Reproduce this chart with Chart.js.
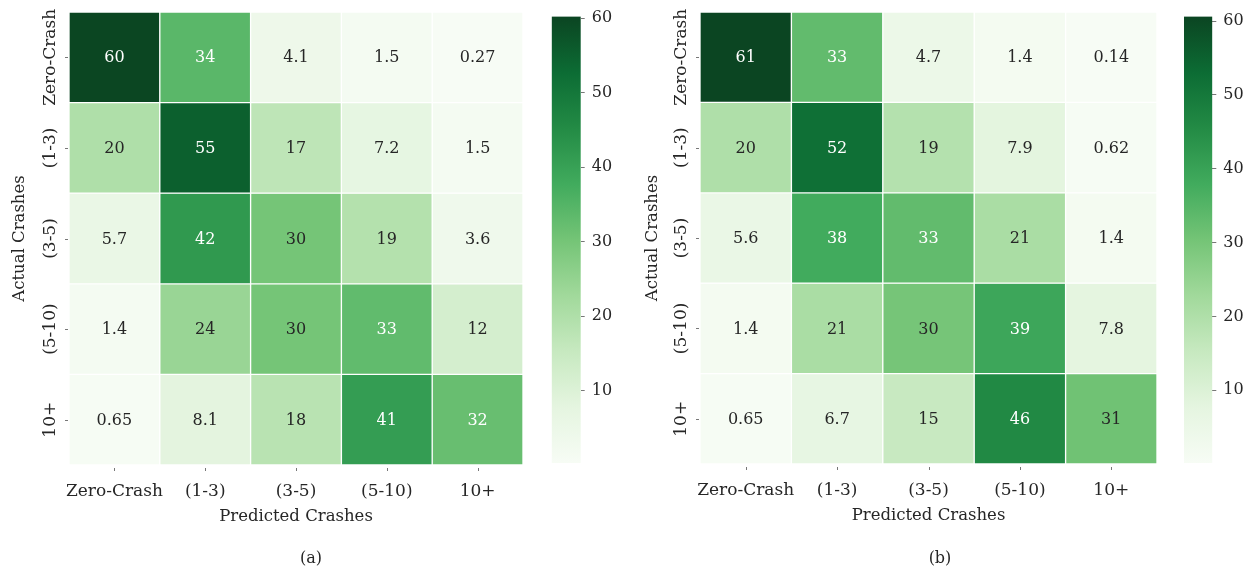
<!DOCTYPE html>
<html>
<head>
<meta charset="utf-8">
<script src="https://cdn.jsdelivr.net/npm/chart.js@4.4.1/dist/chart.umd.min.js"></script>
<style>
  html, body { margin: 0; padding: 0; background: #ffffff; }
  body { width: 1255px; height: 571px; position: relative; overflow: hidden; }
  .box { position: absolute; top: 0; height: 571px; }
  .cap { position: absolute; top: 548px; font-family: 'DejaVu Serif', serif; font-size: 16px; color: #262626; width: 60px; text-align: center; }
</style>
</head>
<body>
<div class="box" style="left:0px;width:540px"><canvas id="heatA"></canvas></div>
<div class="box" style="left:545px;width:90px"><canvas id="barA"></canvas></div>
<div class="box" style="left:630px;width:540px"><canvas id="heatB"></canvas></div>
<div class="box" style="left:1178px;width:77px"><canvas id="barB"></canvas></div>
<div class="cap" style="left:281px">(a)</div>
<div class="cap" style="left:910px">(b)</div>
<script>
// ---------------- data ----------------
const predictedLabels = ['Zero-Crash', '(1-3)', '(3-5)', '(5-10)', '10+'];
const actualLabels = ['Zero-Crash', '(1-3)', '(3-5)', '(5-10)', '10+'];
const valuesA = [
  [60, 34, 4.1, 1.5, 0.27],
  [20, 55, 17, 7.2, 1.5],
  [5.7, 42, 30, 19, 3.6],
  [1.4, 24, 30, 33, 12],
  [0.65, 8.1, 18, 41, 32]
];
const valuesB = [
  [61, 33, 4.7, 1.4, 0.14],
  [20, 52, 19, 7.9, 0.62],
  [5.6, 38, 33, 21, 1.4],
  [1.4, 21, 30, 39, 7.8],
  [0.65, 6.7, 15, 46, 31]
];
const colorRangeA = [0.27, 60.2];
const colorRangeB = [0.14, 60.6];
const colorbarTicks = [10, 20, 30, 40, 50, 60];
const xTitle = 'Predicted Crashes';
const yTitle = 'Actual Crashes';

// ---------------- styling helpers ----------------
const FONT = "'DejaVu Serif', serif";
const TEXT = '#262626';
const GREENS = ['#f7fcf5', '#e5f5e0', '#c7e9c0', '#a1d99b', '#74c476', '#41ab5d', '#238b45', '#0c6c34', '#0b4522'];
function hexRgb(h) { return [parseInt(h.slice(1, 3), 16), parseInt(h.slice(3, 5), 16), parseInt(h.slice(5, 7), 16)]; }
const GREENS_RGB = GREENS.map(hexRgb);
function cmapRgb(v, range) {
  let t = (v - range[0]) / (range[1] - range[0]);
  t = Math.max(0, Math.min(1, t));
  const p = t * (GREENS_RGB.length - 1);
  const i = Math.min(Math.floor(p), GREENS_RGB.length - 2);
  const f = p - i;
  const a = GREENS_RGB[i], b = GREENS_RGB[i + 1];
  return [0, 1, 2].map(k => a[k] + (b[k] - a[k]) * f);
}
function rgbStr(c) { return 'rgb(' + c.map(x => Math.round(x)).join(',') + ')'; }
function luminance(c) {
  const l = c.map(x => { x /= 255; return x <= 0.03928 ? x / 12.92 : Math.pow((x + 0.055) / 1.055, 2.4); });
  return 0.2126 * l[0] + 0.7152 * l[1] + 0.0722 * l[2];
}
function fmt(v) { return String(Number(v.toPrecision(2))); }

const annotPlugin = {
  id: 'annot',
  afterDatasetsDraw(chart) {
    const ctx = chart.ctx;
    const range = chart.options.plugins.annot.range;
    const vals = chart.options.plugins.annot.values;
    ctx.save();
    ctx.font = '16px ' + FONT;
    ctx.textAlign = 'center';
    ctx.textBaseline = 'middle';
    chart.data.datasets.forEach((ds, r) => {
      const meta = chart.getDatasetMeta(r);
      meta.data.forEach((el, c) => {
        const v = vals[r][c];
        const col = cmapRgb(v, range);
        ctx.fillStyle = luminance(col) > 0.42 ? TEXT : '#ffffff';
        ctx.fillText(fmt(v), el.x, (el.y + el.base) / 2 + 1);
      });
    });
    // y tick labels (rotated) and tick marks
    const ys = chart.scales.y, xs = chart.scales.x, ca = chart.chartArea;
    ctx.strokeStyle = '#777';
    ctx.lineWidth = 1;
    actualLabels.forEach((lab, i) => {
      const y = ys.getPixelForValue(i + 0.5);
      ctx.beginPath(); ctx.moveTo(ca.left - 4, Math.round(y) + 0.5); ctx.lineTo(ca.left - 1, Math.round(y) + 0.5); ctx.stroke();
      ctx.save();
      ctx.translate(ca.left - 18, y);
      ctx.rotate(-Math.PI / 2);
      ctx.fillStyle = TEXT;
      ctx.font = '17px ' + FONT;
      ctx.textAlign = 'center';
      ctx.textBaseline = 'middle';
      ctx.fillText(lab, 0, 0);
      ctx.restore();
    });
    predictedLabels.forEach((lab, i) => {
      const x = xs.getPixelForValue(i);
      ctx.beginPath(); ctx.moveTo(Math.round(x) + 0.5, ca.bottom + 3); ctx.lineTo(Math.round(x) + 0.5, ca.bottom + 6); ctx.stroke();
    });
    ctx.restore();
  }
};

function makeHeatmap(id, values, range, pad, yWidth) {
  const datasets = values.map((row, r) => ({
    data: row.map(() => [r, r + 1]),
    backgroundColor: row.map(v => rgbStr(cmapRgb(v, range))),
    borderColor: '#ffffff',
    borderWidth: 1,
    borderSkipped: false,
    barPercentage: 1,
    categoryPercentage: 1,
    grouped: false
  }));
  return new Chart(document.getElementById(id), {
    type: 'bar',
    data: { labels: predictedLabels, datasets },
    plugins: [annotPlugin],
    options: {
      responsive: true,
      maintainAspectRatio: false,
      animation: false,
      layout: { padding: pad },
      plugins: {
        legend: { display: false },
        tooltip: { enabled: false },
        annot: { range, values }
      },
      scales: {
        x: {
          type: 'category',
          grid: { display: false },
          border: { display: false },
          ticks: { font: { family: FONT, size: 17 }, color: TEXT, padding: 8, maxRotation: 0, minRotation: 0, autoSkip: false },
          title: { display: true, text: xTitle, font: { family: FONT, size: 16.5 }, color: TEXT },
          afterFit: s => { s.height = 66; }
        },
        y: {
          type: 'linear', min: 0, max: 5, reverse: true,
          grid: { display: false },
          border: { display: false },
          ticks: { display: false },
          title: { display: true, text: yTitle, font: { family: FONT, size: 16.5 }, color: TEXT },
          afterFit: s => { s.width = yWidth; }
        }
      }
    }
  });
}

function makeColorbar(id, range, pad, yWidth) {
  return new Chart(document.getElementById(id), {
    type: 'bar',
    data: {
      labels: [''],
      datasets: [{
        data: [range],
        borderWidth: 0,
        borderSkipped: false,
        barPercentage: 1,
        categoryPercentage: 1,
        backgroundColor: (c) => {
          const ch = c.chart;
          if (!ch.chartArea || !ch.scales.y) return GREENS[4];
          const g = ch.ctx.createLinearGradient(0, ch.scales.y.getPixelForValue(range[0]), 0, ch.scales.y.getPixelForValue(range[1]));
          GREENS.forEach((s, i) => g.addColorStop(i / (GREENS.length - 1), s));
          return g;
        }
      }]
    },
    options: {
      responsive: true,
      maintainAspectRatio: false,
      animation: false,
      layout: { padding: pad },
      plugins: { legend: { display: false }, tooltip: { enabled: false } },
      scales: {
        x: { display: false },
        y: {
          type: 'linear', position: 'right', min: range[0], max: range[1],
          afterBuildTicks: s => { s.ticks = colorbarTicks.map(v => ({ value: v })); },
          ticks: { font: { family: FONT, size: 16 }, color: TEXT, padding: 7 },
          grid: { display: true, drawOnChartArea: false, drawTicks: true, tickLength: 4, color: '#777' },
          border: { display: false },
          afterFit: s => { s.width = yWidth; }
        }
      }
    }
  });
}

makeHeatmap('heatA', valuesA, colorRangeA, { left: 6, right: 17, top: 12, bottom: 40 }, 63);
makeHeatmap('heatB', valuesB, colorRangeB, { left: 9, right: 13, top: 12, bottom: 41 }, 61);
makeColorbar('barA', colorRangeA, { left: 6.7, right: 4.3, top: 13.3, bottom: 108 }, 50);
makeColorbar('barB', colorRangeB, { left: 6, right: 2.7, top: 13.3, bottom: 108 }, 40);
</script>
</body>
</html>
